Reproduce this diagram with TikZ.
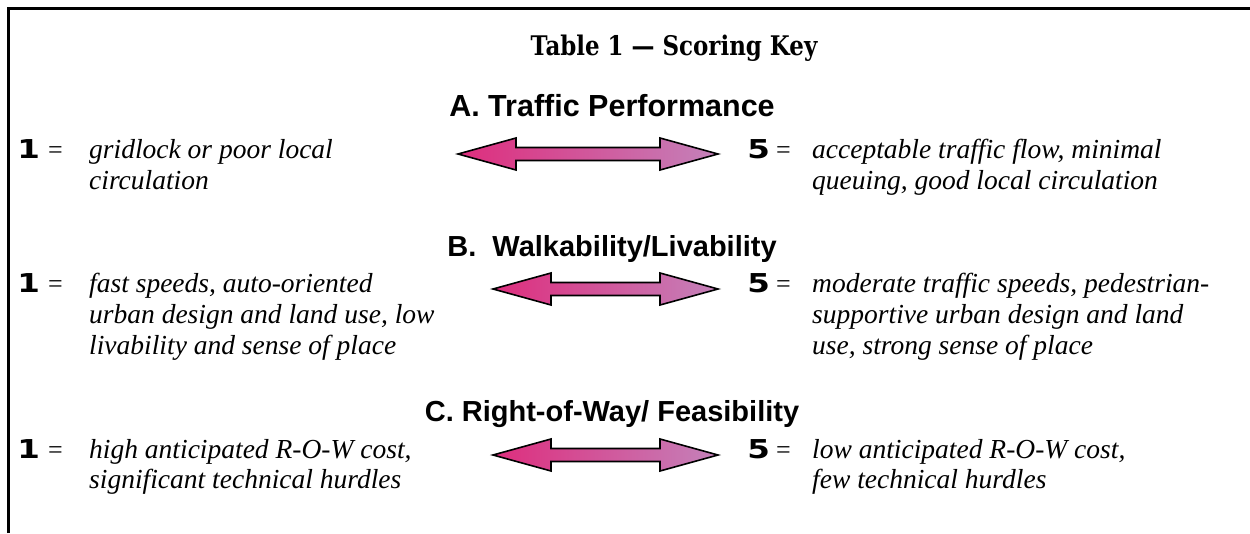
\documentclass[tikz,border=0pt]{standalone}
\usepackage{fontspec}
\setmainfont{Liberation Serif}
\newfontfamily\headfont{Liberation Sans}
\newfontfamily\titlefont{DejaVu Serif}
\newfontfamily\numfont{DejaVu Sans}
\definecolor{arrL}{RGB}{222,45,125}
\definecolor{arrR}{RGB}{196,130,186}
\newcommand\dblarrow[3]{% x1, x2, y
  \shadedraw[left color=arrL,right color=arrR,draw=black,line width=1.6pt,line join=miter]
    (#1,#3) -- (#1+58,#3-16) -- (#1+58,#3-6.5) -- (#2-58,#3-6.5) -- (#2-58,#3-16)
    -- (#2,#3) -- (#2-58,#3+16) -- (#2-58,#3+6.5) -- (#1+58,#3+6.5) -- (#1+58,#3+16) -- cycle;}
\tikzset{
  txt/.style={anchor=base west,inner sep=0pt,font=\fontsize{27.5}{30}\selectfont\itshape},
  num/.style={anchor=base west,inner sep=0pt,font=\numfont\bfseries\fontsize{26}{30}\selectfont,xscale=1.25},
  eq/.style={anchor=base west,inner sep=0pt,font=\fontsize{26}{30}\selectfont},
  head/.style={anchor=base,inner sep=0pt,font=\headfont\bfseries\fontsize{29}{32}\selectfont},
  ttl/.style={anchor=base,inner sep=0pt,font=\titlefont\bfseries\fontsize{27}{32}\selectfont,xscale=0.85}
}
\begin{document}
\begin{tikzpicture}[x=1pt,y=-1pt]
\useasboundingbox (0,0) rectangle (1250,533);
\fill[white] (0,0) rectangle (1250,533);
% frame
\draw[line width=3pt] (8.5,533) -- (8.5,8.5) -- (1250,8.5);
% title
\node[ttl] (title) at (674,55) {Table 1 — Scoring Key};
% A
\node[head,font=\headfont\bfseries\fontsize{30.5}{32}\selectfont] (headA) at (612,116) {A. Traffic Performance};
\node[num] (oneA) at (17,158) {1};
\node[eq] (eqA1) at (48,158) {=};
\node[txt] (a1) at (89,158) {gridlock or poor local};
\node[txt] (a2) at (89,189) {circulation};
\dblarrow{458}{718}{154}
\node[num] (fiveA) at (747,158) {5};
\node[eq] (eqA5) at (776,158) {=};
\node[txt] (a3) at (812,158) {acceptable traffic flow, minimal};
\node[txt] (a4) at (812,189) {queuing, good local circulation};
% B
\node[head] (headB) at (612,256) {B.\ \ Walkability/Livability};
\node[num] (oneB) at (17,292) {1};
\node[eq] (eqB1) at (48,292) {=};
\node[txt] (b1) at (89,292) {fast speeds, auto-oriented};
\node[txt] (b2) at (89,323) {urban design and land use, low};
\node[txt] (b3) at (89,354) {livability and sense of place};
\dblarrow{493}{718}{289}
\node[num] (fiveB) at (747,292) {5};
\node[eq] (eqB5) at (776,292) {=};
\node[txt] (b4) at (812,292) {moderate traffic speeds, pedestrian-};
\node[txt] (b5) at (812,323) {supportive urban design and land};
\node[txt] (b6) at (812,354) {use, strong sense of place};
% C
\node[head] (headC) at (612,421) {C. Right-of-Way/ Feasibility};
\node[num] (oneC) at (17,458) {1};
\node[eq] (eqC1) at (48,458) {=};
\node[txt] (c1) at (89,458) {high anticipated R-O-W cost,};
\node[txt] (c2) at (89,488) {significant technical hurdles};
\dblarrow{493}{718}{455}
\node[num] (fiveC) at (747,458) {5};
\node[eq] (eqC5) at (776,458) {=};
\node[txt] (c3) at (812,458) {low anticipated R-O-W cost,};
\node[txt] (c4) at (812,488) {few technical hurdles};
\end{tikzpicture}
\end{document}
